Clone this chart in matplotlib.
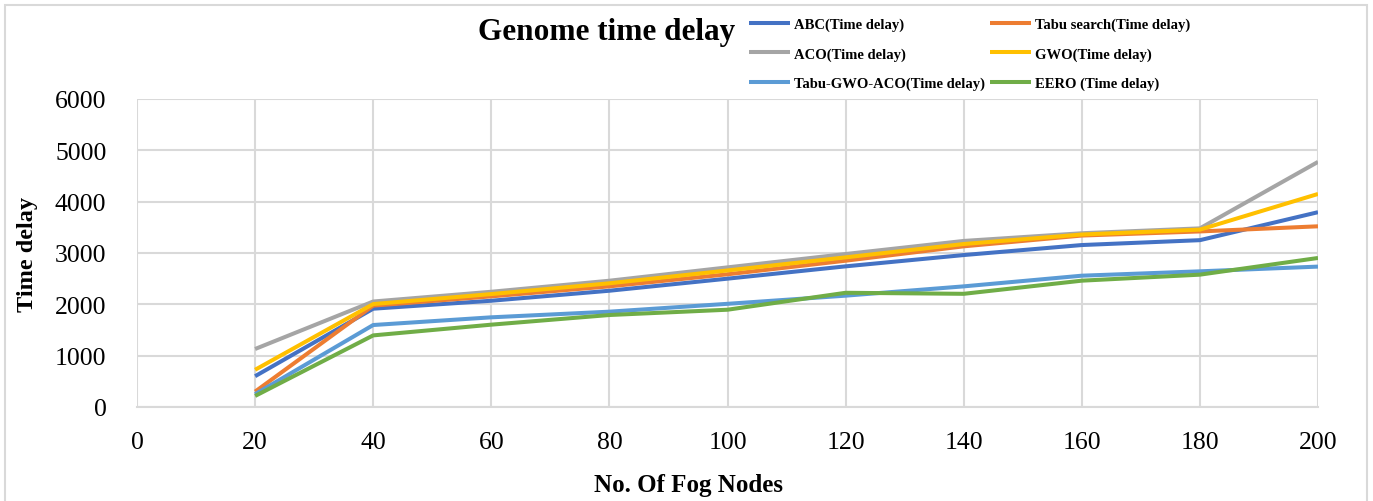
import matplotlib
matplotlib.use("Agg")
import matplotlib.pyplot as plt
from matplotlib.patches import Rectangle

plt.rcParams["font.family"] = ["Liberation Serif", "DejaVu Serif"]

fog_nodes = [20, 40, 60, 80, 100, 120, 140, 160, 180, 200]

abc = [600, 1915, 2070, 2265, 2500, 2740, 2960, 3155, 3250, 3795]
tabu = [300, 1975, 2155, 2350, 2585, 2850, 3130, 3340, 3420, 3520]
aco = [1130, 2055, 2245, 2460, 2720, 2980, 3235, 3385, 3480, 4775]
gwo = [725, 2005, 2200, 2410, 2660, 2915, 3175, 3360, 3455, 4150]
tabu_gwo_aco = [250, 1597, 1747, 1857, 2010, 2169, 2350, 2558, 2643, 2735]
eero = [215, 1395, 1604, 1792, 1895, 2225, 2205, 2461, 2578, 2903]

series = [
    ("ABC(Time delay)", abc, "#4472C4"),
    ("Tabu search(Time delay)", tabu, "#ED7D31"),
    ("ACO(Time delay)", aco, "#A5A5A5"),
    ("GWO(Time delay)", gwo, "#FFC000"),
    ("Tabu-GWO-ACO(Time delay)", tabu_gwo_aco, "#5B9BD5"),
    ("EERO (Time delay)", eero, "#70AD47"),
]

W, H = 1373, 502
fig = plt.figure(figsize=(W / 100, H / 100), dpi=100)
ax = fig.add_axes([137 / W, 1 - 408 / H, (1318 - 137) / W, (408 - 100) / H])

for name, vals, color in series:
    ax.plot(fog_nodes, vals, color=color, lw=2.9, label=name,
            solid_joinstyle="round", solid_capstyle="butt", zorder=3)

ax.set_xlim(0, 200)
ax.set_ylim(0, 6000)
ax.set_xticks(range(0, 201, 20))
ax.set_yticks(range(0, 6001, 1000))
ax.grid(True, color="#D9D9D9", lw=1.5, zorder=0)
for side in ("top", "right", "left"):
    ax.spines[side].set_visible(False)
ax.spines["bottom"].set_color("#D9D9D9")
ax.spines["bottom"].set_linewidth(1.5)
ax.tick_params(axis="both", length=0, labelsize=18.5, colors="black")
ax.tick_params(axis="x", pad=17)
ax.tick_params(axis="y", pad=22)

fig.text(607 / W, 1 - 33 / H, "Genome time delay", ha="center", va="center",
         fontsize=22.5, fontweight="bold")
fig.text(689 / W, 1 - 486 / H, "No. Of Fog Nodes", ha="center", va="center",
         fontsize=18, fontweight="bold")
fig.text(28 / W, 1 - 254 / H, "Time delay", ha="center", va="center",
         rotation=90, fontsize=17.5, fontweight="bold")

# legend laid out row-wise in two columns
handles, labels = ax.get_legend_handles_labels()
leg_kw = dict(loc="center left", frameon=False,
              prop={"weight": "bold", "size": 10.5}, handlelength=2.8,
              handletextpad=0.3, labelspacing=1.1, borderpad=0)
for col, x0 in ((0, 742), (1, 983)):
    idx = [col, col + 2, col + 4]
    fig.legend([handles[i] for i in idx], [labels[i] for i in idx],
               bbox_to_anchor=(x0 / W, 1 - 55 / H), **leg_kw)

fig.patches.append(Rectangle((5 / W, -0.02), (1367 - 5) / W, 1 - 6 / H + 0.02,
                             transform=fig.transFigure, fill=False,
                             edgecolor="#D9D9D9", lw=1.5))

fig.savefig("out.png", dpi=100)
